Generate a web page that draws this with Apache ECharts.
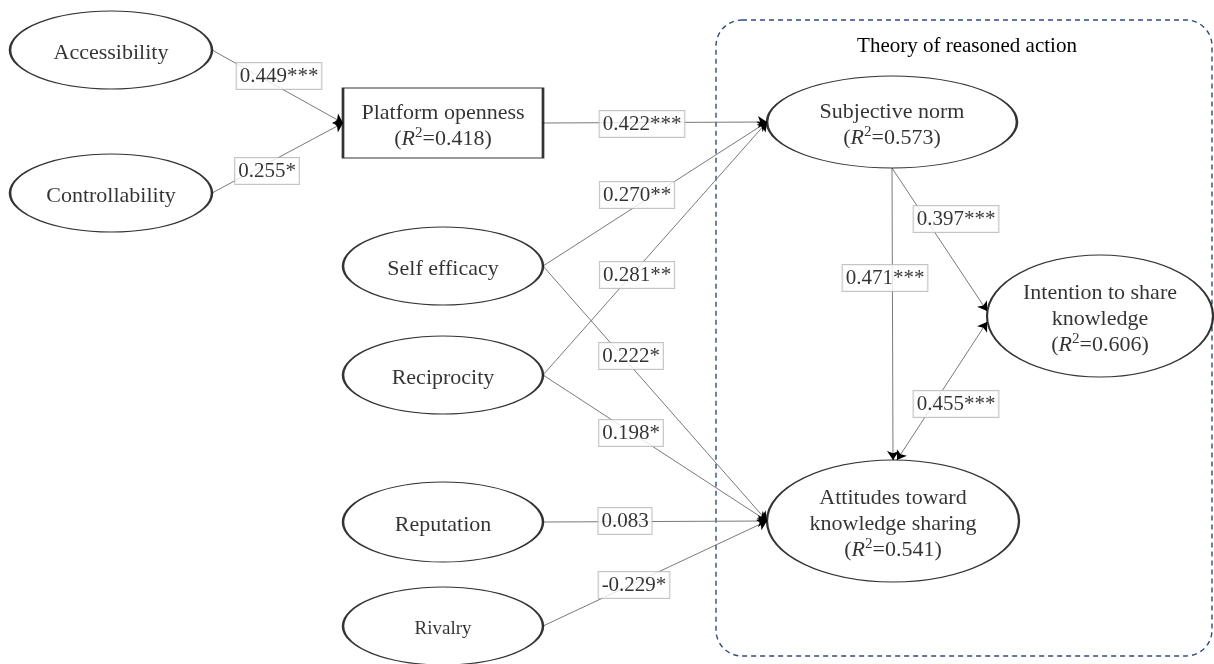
<!DOCTYPE html>
<html><head><meta charset="utf-8">
<script src="https://cdn.jsdelivr.net/npm/echarts@6/dist/echarts.min.js"></script>
<style>html,body{margin:0;padding:0;background:#fff}#c{width:1214px;height:664px}</style>
</head><body><div id="c"></div><script>
// ---- data ----
const constructs = ['Accessibility','Controllability','Platform openness','Self efficacy','Reciprocity','Reputation','Rivalry','Subjective norm','Intention to share knowledge','Attitudes toward knowledge sharing'];
const rSquared   = [null, null, 0.418, null, null, null, null, 0.573, 0.606, 0.541];
const pathFrom = ['Accessibility','Controllability','Platform openness','Self efficacy','Reciprocity','Self efficacy','Reciprocity','Reputation','Rivalry','Subjective norm','Subjective norm','Attitudes toward knowledge sharing'];
const pathTo   = ['Platform openness','Platform openness','Subjective norm','Subjective norm','Subjective norm','Attitudes toward knowledge sharing','Attitudes toward knowledge sharing','Attitudes toward knowledge sharing','Attitudes toward knowledge sharing','Attitudes toward knowledge sharing','Intention to share knowledge','Intention to share knowledge'];
const pathCoef = [0.449, 0.255, 0.422, 0.270, 0.281, 0.222, 0.198, 0.083, -0.229, 0.471, 0.397, 0.455];
const pathSig  = ['***','*','***','**','**','*','*','','*','***','***','***'];
const groupTitle = 'Theory of reasoned action';

// ---- layout (positions / sizes / styles) ----
const ELLIPSE = 'path://M0,50 C0,22.4 22.4,0 50,0 C77.6,0 100,22.4 100,50 C100,77.6 77.6,100 50,100 C22.4,100 0,77.6 0,50 Z';
const nodeLayout = {
  'Accessibility': {c:[111,50], size:[202,78]},
  'Controllability': {c:[111,193], size:[202,78]},
  'Platform openness': {c:[443,123], size:[200,70], rect:true},
  'Self efficacy': {c:[443,266], size:[200,78]},
  'Reciprocity': {c:[443,375], size:[200,78]},
  'Reputation': {c:[443,522], size:[200,80]},
  'Rivalry': {c:[443,626], size:[200,78], fontSize:19},
  'Subjective norm': {c:[892,122], size:[250,92]},
  'Intention to share knowledge': {c:[1100,316], size:[226,122], lines:['Intention to share','knowledge']},
  'Attitudes toward knowledge sharing': {c:[893,521], size:[252,122], lines:['Attitudes toward','knowledge sharing']}
};
const edgeLayout = [
  {from:'right', to:'left', label:[279,75]},
  {from:'right', to:'left', label:[267,170]},
  {from:'right', to:'left', label:[642,123]},
  {from:'right', to:'left', label:[637,194]},
  {from:'right', to:'left', label:[637,274]},
  {from:'right', to:'left', label:[631,355]},
  {from:'right', to:'left', label:[631,432]},
  {from:'right', to:'left', label:[625,520]},
  {from:'right', to:'left', label:[634,584]},
  {from:'bottom', to:'top', label:[885,277]},
  {from:'bottom', to:'left', label:[956,218], dyTo:-5},
  {from:'top', to:'left', label:[956,403], both:true, dyTo:6, dxFrom:4}
];

function anchor(name, side) {
  const n = nodeLayout[name], cx = n.c[0], cy = n.c[1], w = n.size[0]/2, h = n.size[1]/2;
  if (side === 'left') return [cx - w, cy];
  if (side === 'right') return [cx + w, cy];
  if (side === 'top') return [cx, cy - h];
  return [cx, cy + h];
}

const nodeData = constructs.map((name, i) => {
  const n = nodeLayout[name];
  const textLines = n.lines ? n.lines.slice() : [name];
  if (rSquared[i] != null) textLines.push('({i|R}{s|2}=' + rSquared[i].toFixed(3) + ')');
  return {
    name: name,
    value: n.c,
    symbol: n.rect ? 'rect' : ELLIPSE,
    symbolSize: n.size,
    label: {formatter: textLines.join('\n'), fontSize: n.fontSize || 22}
  };
});

const lineData = [], arrowData = [], labelData = [];
pathFrom.forEach((f, i) => {
  const L = edgeLayout[i];
  const a = anchor(f, L.from).slice(), b = anchor(pathTo[i], L.to).slice();
  if (L.dyTo) b[1] += L.dyTo;
  if (L.dxFrom) a[0] += L.dxFrom;
  lineData.push({coords: [a, b]});
  const dx = b[0]-a[0], dy = b[1]-a[1], len = Math.hypot(dx, dy), ux = dx/len, uy = dy/len;
  arrowData.push({coords: [[b[0]-ux*3, b[1]-uy*3], b]});
  if (L.both) arrowData.push({coords: [[a[0]+ux*3, a[1]+uy*3], a]});
  const txt = (pathCoef[i] < 0 ? '-' : '') + Math.abs(pathCoef[i]).toFixed(3) + pathSig[i];
  labelData.push({value: L.label, label: {formatter: txt}});
});

const serif = "'Liberation Serif','DejaVu Serif',serif";
const chart = echarts.init(document.getElementById('c'), null, {renderer: 'canvas'});
chart.setOption({
  animation: false,
  backgroundColor: '#fff',
  grid: {left: 0, right: 0, top: 0, bottom: 0},
  xAxis: {type: 'value', min: 0, max: 1214, show: false},
  yAxis: {type: 'value', min: 0, max: 664, inverse: true, show: false},
  graphic: [
    {type: 'rect', z: 0, shape: {x: 716, y: 20, width: 496, height: 636, r: 26},
     style: {fill: 'none', stroke: '#2f4c82', lineWidth: 1.4, lineDash: [5, 4]}},
    {type: 'text', z: 0, style: {text: groupTitle, x: 967, y: 46, align: 'center', verticalAlign: 'middle',
     fontSize: 21, fontFamily: serif, fill: '#000'}}
  ],
  series: [
    {type: 'lines', coordinateSystem: 'cartesian2d', z: 2, silent: true,
     symbol: 'none', lineStyle: {color: '#7a7a7a', width: 1, opacity: 1}, data: lineData},
    {type: 'lines', coordinateSystem: 'cartesian2d', z: 3, silent: true,
     symbol: ['none', 'arrow'], symbolSize: 9,
     lineStyle: {color: '#000', width: 1, opacity: 1}, data: arrowData},
    {type: 'scatter', z: 5, clip: false, silent: true,
     itemStyle: {color: '#fff', borderColor: '#000', borderWidth: 1.6},
     label: {show: true, position: 'inside', offset: [0, 3], color: '#000', fontFamily: serif, lineHeight: 26,
       rich: {
         i: {fontStyle: 'italic', fontSize: 22, fontFamily: serif, color: '#000', lineHeight: 26},
         s: {fontSize: 15, fontFamily: serif, color: '#000', verticalAlign: 'top', lineHeight: 15}
       }},
     data: nodeData},
    {type: 'scatter', z: 6, clip: false, silent: true, symbol: 'rect', symbolSize: 1,
     itemStyle: {color: 'rgba(0,0,0,0)'},
     label: {show: true, position: 'inside', offset: [0, 1], color: '#000', fontFamily: serif, fontSize: 21, lineHeight: 22,
       backgroundColor: '#fff', borderColor: '#b5b5b5', borderWidth: 1, padding: [3, 3, 1, 3]},
     data: labelData}
  ]
});
</script></body></html>
